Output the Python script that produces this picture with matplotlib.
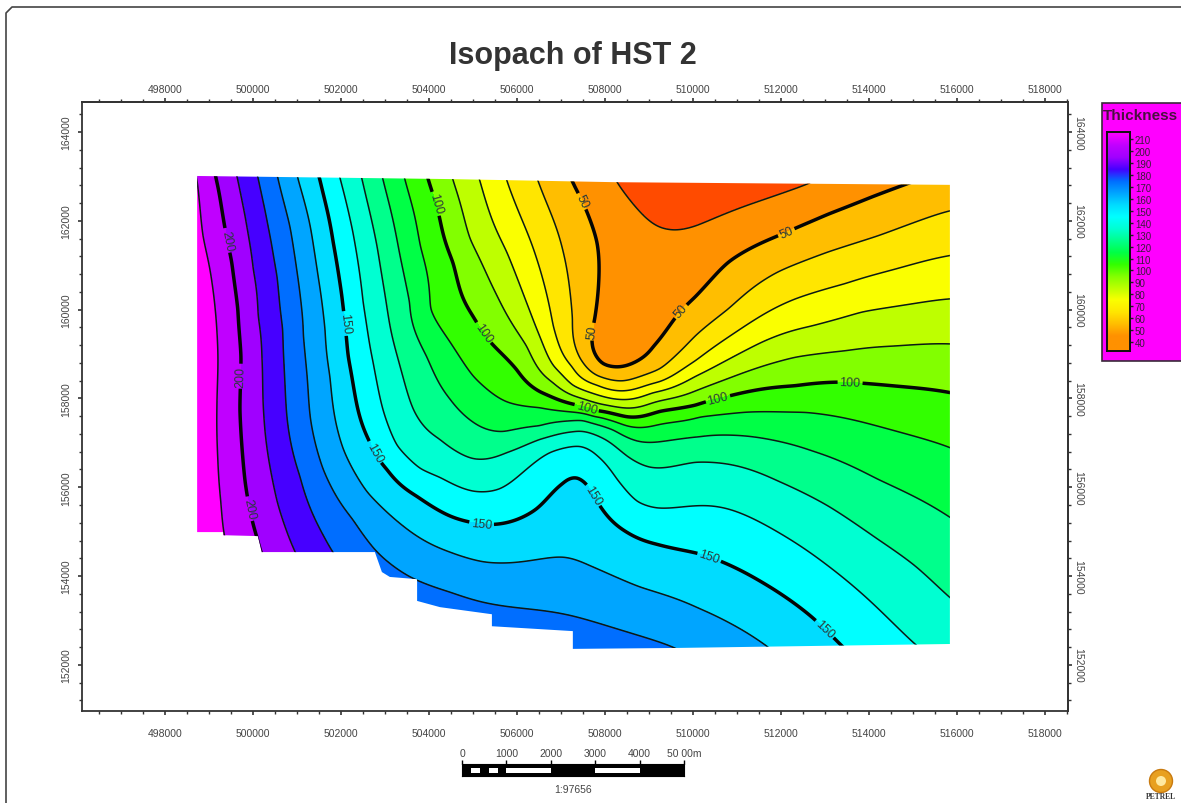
import numpy as np
import matplotlib
matplotlib.use('Agg')
import matplotlib.pyplot as plt
from matplotlib.colors import LinearSegmentedColormap
from matplotlib.patches import Polygon, Rectangle, Circle
from matplotlib.ticker import MultipleLocator, FuncFormatter

plt.rcParams['font.family'] = ['Liberation Sans', 'DejaVu Sans']

# contour lines: easting / northing in km
e210 = [498.73, 498.86, 499.02, 499.14, 499.20, 499.18, 499.20, 499.27, 499.34]
n210 = [162.94, 161.66, 160.91, 160.01, 159.05, 157.76, 156.64, 155.67, 154.95]
e200 = [499.14, 499.30, 499.52, 499.66, 499.73, 499.70, 499.82, 500.09, 500.18]
n200 = [163.01, 162.20, 161.07, 160.01, 158.95, 157.76, 156.12, 154.88, 154.54]
e190 = [499.64, 499.82, 500.00, 500.11, 500.20, 500.25, 500.55, 500.95]
n190 = [162.99, 162.11, 160.91, 159.86, 158.95, 157.58, 155.67, 154.56]
e180 = [500.11, 500.34, 500.55, 500.68, 500.77, 501.07, 501.41, 501.80]
n180 = [162.99, 161.88, 160.75, 159.56, 157.60, 156.25, 155.28, 154.56]
e170 = [500.57, 500.84, 501.00, 501.14, 501.23, 501.30, 501.59, 502.27, 502.82, 503.57, 504.48, 505.23, 507.27, 509.55]
n170 = [162.94, 161.88, 160.85, 159.41, 158.50, 157.58, 156.41, 155.28, 154.54, 153.98, 153.64, 153.41, 153.10, 152.40]
e160 = [501.02, 501.30, 501.48, 501.64, 501.75, 501.86, 502.05, 502.59, 503.41, 504.48, 505.23, 507.05, 507.66, 508.80, 510.16, 510.80, 511.68]
n160 = [162.94, 161.88, 160.75, 159.56, 158.50, 157.58, 156.86, 155.89, 155.13, 154.54, 154.32, 154.43, 154.23, 153.75, 153.26, 152.96, 152.42]
e150 = [501.52, 501.82, 502.02, 502.16, 502.43, 502.66, 503.05, 503.73, 504.48, 504.93, 505.55, 506.45, 507.05, 507.36, 507.59, 507.89, 508.50, 509.18, 510.16, 510.66, 511.57, 512.70, 513.39]
n150 = [162.94, 161.52, 160.31, 158.95, 157.58, 157.02, 156.41, 155.80, 155.35, 155.22, 155.17, 155.51, 156.07, 156.23, 156.07, 155.58, 154.99, 154.72, 154.50, 154.32, 153.86, 153.08, 152.42]
e140 = [501.98, 502.27, 502.50, 502.73, 502.95, 503.27, 503.80, 504.25, 505.00, 505.61, 506.14, 506.75, 507.43, 507.82, 508.27, 508.73, 509.18, 510.05, 510.80, 511.93, 513.07, 513.98, 515.00]
n140 = [162.94, 161.75, 160.17, 158.82, 157.76, 156.93, 156.41, 156.23, 155.91, 155.96, 156.34, 156.79, 156.93, 156.70, 156.18, 155.67, 155.53, 155.58, 155.51, 154.99, 154.23, 153.48, 152.51]
e130 = [502.48, 502.82, 503.05, 503.34, 503.64, 504.02, 504.25, 505.00, 505.77, 506.52, 507.27, 507.89, 508.50, 509.02, 510.05, 510.80, 511.93, 513.07, 514.20, 515.05, 515.80]
n130 = [162.94, 161.43, 160.01, 158.73, 157.76, 157.24, 157.09, 156.64, 156.79, 157.09, 157.24, 157.13, 156.70, 156.45, 156.57, 156.52, 156.14, 155.58, 154.83, 154.23, 153.55]
e120 = [502.95, 503.27, 503.57, 503.95, 504.48, 505.00, 505.68, 506.52, 507.50, 508.18, 508.73, 510.16, 511.41, 512.70, 514.20, 515.80]
n120 = [162.94, 161.59, 160.17, 158.95, 157.99, 157.47, 157.24, 157.36, 157.54, 157.31, 157.04, 157.13, 157.13, 156.82, 156.18, 155.35]
e110 = [503.45, 503.80, 504.02, 504.48, 505.00, 505.77, 506.52, 507.50, 507.89, 508.50, 509.25, 510.16, 511.18, 512.55, 513.84, 515.80]
n110 = [162.94, 161.43, 160.01, 159.27, 158.50, 157.92, 157.81, 157.65, 157.60, 157.38, 157.42, 157.60, 157.69, 157.69, 157.47, 156.91]
e100 = [503.98, 504.20, 504.55, 505.00, 505.39, 506.00, 506.52, 507.27, 507.82, 508.50, 509.25, 510.05, 510.80, 512.32, 513.30, 514.59, 515.80]
n100 = [162.94, 162.27, 161.07, 159.86, 159.27, 158.66, 158.14, 157.87, 157.69, 157.58, 157.72, 157.83, 158.05, 158.28, 158.37, 158.28, 158.14]
e90 = [504.55, 504.93, 505.55, 506.23, 506.82, 507.66, 508.80, 510.05, 511.18, 512.32, 513.45, 514.59, 515.80]
n90 = [162.90, 161.59, 160.31, 159.18, 158.37, 157.94, 157.81, 158.17, 158.59, 158.93, 159.07, 159.18, 159.23]
e80 = [505.16, 505.77, 506.30, 506.82, 507.27, 508.18, 509.09, 510.05, 511.57, 512.70, 513.84, 514.98, 515.80]
n80 = [162.90, 161.30, 159.95, 158.73, 158.28, 157.99, 158.14, 158.50, 159.27, 159.63, 159.95, 160.13, 160.24]
e70 = [505.77, 506.45, 506.82, 507.27, 507.82, 508.41, 509.25, 510.05, 511.18, 512.32, 513.45, 514.59, 515.80]
n70 = [162.90, 161.14, 159.63, 158.73, 158.32, 158.17, 158.37, 158.84, 159.63, 160.24, 160.58, 160.91, 161.21]
e60 = [506.48, 507.05, 507.27, 507.43, 507.82, 508.41, 509.25, 510.05, 510.80, 511.93, 513.07, 514.20, 515.89]
n60 = [162.90, 161.30, 159.79, 158.89, 158.50, 158.39, 158.66, 159.41, 160.01, 160.85, 161.30, 161.66, 162.24]
e50 = [507.25, 507.50, 507.82, 507.86, 507.77, 507.73, 507.95, 508.57, 509.09, 509.70, 510.05, 510.80, 511.93, 513.07, 514.07, 514.86]
n50 = [162.90, 162.42, 161.52, 160.69, 159.79, 159.11, 158.77, 158.77, 159.18, 159.95, 160.28, 161.07, 161.66, 162.15, 162.54, 162.83]
e40 = [508.27, 508.80, 509.41, 510.05, 511.18, 512.61]
n40 = [162.87, 162.20, 161.82, 161.88, 162.33, 162.83]

contours = {210: (e210, n210), 200: (e200, n200), 190: (e190, n190), 180: (e180, n180),
            170: (e170, n170), 160: (e160, n160), 150: (e150, n150), 140: (e140, n140),
            130: (e130, n130), 120: (e120, n120), 110: (e110, n110), 100: (e100, n100),
            90: (e90, n90), 80: (e80, n80), 70: (e70, n70), 60: (e60, n60),
            50: (e50, n50), 40: (e40, n40)}

# edge of the mapped area, km
outline_e = [498.73, 504.48, 508.23, 515.84, 515.84, 509.55, 507.27, 507.27, 505.43, 505.43, 504.25,
             503.73, 503.73, 503.11, 502.93, 502.77, 500.20, 500.11, 499.32, 499.32, 498.73]
outline_n = [163.01, 162.94, 162.87, 162.81, 152.47, 152.38, 152.36, 152.76, 152.87, 153.14, 153.30,
             153.44, 153.93, 153.98, 154.09, 154.54, 154.54, 154.90, 154.92, 154.99, 154.99]

# contour labels
label_200 = [(499.36, 161.55), (499.75, 158.50), (499.89, 155.51)]
label_150 = [(502.02, 159.68), (502.77, 156.79), (505.20, 155.22), (507.70, 155.80), (510.34, 154.34), (512.95, 152.76)]
label_100 = [(504.14, 162.38), (505.27, 159.50), (507.59, 157.81), (510.57, 157.99), (513.57, 158.32)]
label_50 = [(507.50, 162.45), (507.75, 159.50), (509.77, 159.92), (512.14, 161.70)]

levels = np.arange(30, 231, 10)
thin_levels = sorted(v for v in contours if v % 50 != 0)
bold_levels = [50, 100, 150, 200]

# band colours, from the map and legend
band_values = [35, 45, 55, 65, 75, 85, 95, 105, 115, 125, 135, 145, 155, 165, 175, 185, 195, 205, 215]
band_colors = ['#ff4b00', '#ff9100', '#ffbe00', '#ffe600', '#faff00', '#beff00', '#82ff00', '#32ff00',
               '#00ff46', '#00ff8c', '#00ffd2', '#00ffff', '#00dcff', '#00a5ff', '#006eff', '#4600ff',
               '#a000ff', '#c000ff', '#ff00ff']

legend_ticks = list(range(40, 211, 10))

scale_ticks = [0, 1000, 2000, 3000, 4000, 5000]
scale_labels = ['0', '1000', '2000', '3000', '4000', '50 00m']
scale_white_start = [200, 600, 1000, 3000]
scale_white_len = [200, 200, 1000, 1000]

title = 'Isopach of HST 2'
scale_text = '1:97656'


def thin_plate_fit(x, y, z, smooth=0.08):
    # numpy only, there is no scipy here
    n = len(x)
    d = np.hypot(x[:, None] - x[None, :], y[:, None] - y[None, :])
    with np.errstate(divide='ignore', invalid='ignore'):
        K = np.where(d > 0, d ** 2 * np.log(d), 0.0)
    K = K + np.eye(n) * smooth
    P = np.column_stack([np.ones(n), x, y])
    A = np.block([[K, P], [P.T, np.zeros((3, 3))]])
    b = np.concatenate([z, np.zeros(3)])
    return np.linalg.solve(A, b)


def thin_plate_eval(w, x, y, gx, gy):
    n = len(x)
    out = np.zeros(gx.shape)
    for i in range(n):
        d = np.hypot(gx - x[i], gy - y[i])
        with np.errstate(divide='ignore', invalid='ignore'):
            out += w[i] * np.where(d > 0, d ** 2 * np.log(d), 0.0)
    return out + w[n] + w[n + 1] * gx + w[n + 2] * gy


pts_e = np.concatenate([np.array(contours[v][0]) for v in contours])
pts_n = np.concatenate([np.array(contours[v][1]) for v in contours])
pts_z = np.concatenate([np.full(len(contours[v][0]), float(v)) for v in contours])

weights = thin_plate_fit(pts_e, pts_n, pts_z)
grid_e, grid_n = np.meshgrid(np.linspace(498.5, 516.1, 440), np.linspace(152.1, 163.2, 280))
thickness = thin_plate_eval(weights, pts_e, pts_n, grid_e, grid_n)

W, H = 1181, 804
fig = plt.figure(figsize=(W / 100, H / 100), dpi=100, facecolor='white')


def px_axes(x0, y0, x1, y1, **kw):
    return fig.add_axes([x0 / W, 1 - y1 / H, (x1 - x0) / W, (y1 - y0) / H], **kw)


# page furniture, in pixels
page = fig.add_axes([0, 0, 1, 1], zorder=0)
page.set_xlim(0, W)
page.set_ylim(H, 0)
page.axis('off')
page.plot([6, 6, 12, W], [H, 14, 8, 8], color='#444444', lw=1.2)
page.add_patch(Rectangle((1102, 104), 90, 258, fc='#ff00ff', ec='#3a2a3a', lw=1.2))
page.text(1103, 116, 'Thickness', fontsize=11, fontweight='bold', color='#4a1040', va='center')
page.add_patch(Circle((1161, 782), 11.5, fc='#e8a020', ec='#c87a10', lw=1))
page.add_patch(Circle((1161, 782), 5, fc='#ffe9a0', ec='none'))
page.text(1161, 797, 'PETREL', fontsize=5.5, fontweight='bold', family='Liberation Serif',
          color='#333333', ha='center', va='center')
page.text(573, 56, title, fontsize=22, fontweight='bold', color='#333333', ha='center', va='center')
page.text(573, 790, scale_text, fontsize=7.5, color='#444444', ha='center', va='center')

# main map
ax = px_axes(82, 103, 1068, 712, zorder=2)
band_mid = (levels[:-1] + levels[1:]) / 2
cols = [band_colors[int(np.argmin(np.abs(np.array(band_values) - m)))] for m in band_mid]
clip = Polygon(np.column_stack([np.array(outline_e) * 1000, np.array(outline_n) * 1000]),
               closed=True, transform=ax.transData, fc='none', ec='none')
ax.add_patch(clip)
X, Y = grid_e * 1000, grid_n * 1000
low, high = levels[0], levels[-1]
filled = ax.contourf(X, Y, np.clip(thickness, low + 0.1, high - 0.1), levels=levels, colors=cols)
thin = ax.contour(X, Y, thickness, levels=thin_levels, colors='#0c1a14', linewidths=1.1)
bold = ax.contour(X, Y, thickness, levels=bold_levels, colors='#050505', linewidths=2.5)
for cs in (filled, thin, bold):
    cs.set_clip_path(clip)

ax.set_xlim(496113, 518525)
ax.set_ylim(150961, 164676)
all_labels = [(e * 1000, n * 1000) for e, n in label_200 + label_150 + label_100 + label_50]
ax.clabel(bold, inline=True, inline_spacing=2, fontsize=9, fmt='%d', manual=all_labels, colors='#2a3a3a')

# bottom/left ticks on the map axes, top/right on secondary axes so the pads can differ
fmt = FuncFormatter(lambda v, pos: '%d' % v)
top = ax.secondary_xaxis('top')
right = ax.secondary_yaxis('right')
for axis_obj, minor_step in ((ax.xaxis, 500), (ax.yaxis, 400), (top.xaxis, 500), (right.yaxis, 400)):
    axis_obj.set_major_locator(MultipleLocator(2000))
    axis_obj.set_minor_locator(MultipleLocator(minor_step))
    axis_obj.set_major_formatter(fmt)
    axis_obj.set_tick_params(which='major', direction='out', length=3, width=1.2, labelsize=7.5,
                             labelcolor='#444444', color='#333333')
    axis_obj.set_tick_params(which='minor', direction='out', length=2, width=1, color='#333333')
ax.xaxis.set_tick_params(which='major', pad=9)
ax.yaxis.set_tick_params(which='major', pad=5)
top.xaxis.set_tick_params(which='major', pad=3)
right.yaxis.set_tick_params(which='major', pad=0.5)
ax.yaxis.set_tick_params(labelrotation=90)
right.yaxis.set_tick_params(labelrotation=-90)
for t in ax.get_yticklabels() + right.get_yticklabels():
    t.set_va('center')
for s in list(ax.spines.values()) + [top.spines['top'], right.spines['right']]:
    s.set_linewidth(1.3)
    s.set_color('#333333')

# legend colour bar
cax = px_axes(1107, 133, 1130, 352, zorder=3)
bar_min, bar_max = 32.5, 216
stops = [(0.0, band_colors[1])]
stops += [((v - bar_min) / (bar_max - bar_min), c) for v, c in zip(band_values[1:-1], band_colors[1:-1])]
stops += [(1.0, band_colors[-1])]
cmap = LinearSegmentedColormap.from_list('thick', stops)
cax.imshow(np.linspace(1, 0, 256)[:, None], cmap=cmap, aspect='auto', extent=[0, 1, bar_min, bar_max], vmin=0, vmax=1)
cax.set_xticks([])
cax.yaxis.tick_right()
cax.set_yticks(legend_ticks)
cax.set_yticklabels([str(v) for v in legend_ticks])
cax.tick_params(axis='y', length=2, width=1, labelsize=7, pad=1.5, labelcolor='#3a1a3a', color='#222222')
for s in cax.spines.values():
    s.set_linewidth(1.4)
    s.set_color('#111111')

# scale bar
sax = px_axes(462, 765, 684, 777, zorder=3)
sax.set_facecolor('black')
sax.set_xlim(0, 5000)
sax.set_ylim(0, 1)
sax.broken_barh(list(zip(scale_white_start, scale_white_len)), (0.25, 0.45), facecolor='white')
sax.set_yticks([])
sax.xaxis.tick_top()
sax.set_xticks(scale_ticks)
sax.set_xticklabels(scale_labels)
sax.tick_params(axis='x', length=3, width=1, labelsize=7.5, pad=1, labelcolor='#444444')

fig.savefig('out.png', dpi=100)
